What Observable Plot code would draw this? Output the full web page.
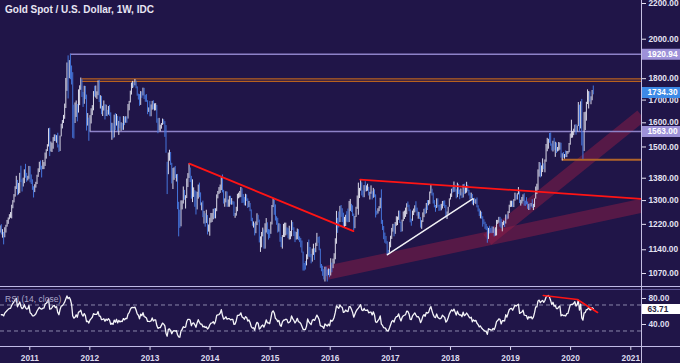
<!DOCTYPE html>
<html><head><meta charset="utf-8">
<script src="https://cdn.jsdelivr.net/npm/d3@7"></script>
<script src="https://cdn.jsdelivr.net/npm/@observablehq/plot@0.6"></script>
<style>
html,body{margin:0;padding:0;background:#201548;}
#wrap{position:relative;width:680px;height:363px;overflow:hidden;background:#201548;font-family:"Liberation Sans",Arial,sans-serif;}
#main,#rsi{position:absolute;left:0;}
#main{top:0;}
#rsi{top:287px;}
.hl{position:absolute;left:0;width:680px;height:1px;}
.vl{position:absolute;top:0;left:641px;width:1px;height:363px;background:#c4bfe2;}
#title{position:absolute;left:5px;top:4px;color:#e8e6f4;font-size:10px;font-weight:bold;line-height:12px;white-space:nowrap;}
#rsiTitle{position:absolute;left:5px;top:294px;color:#aaa6c8;font-size:8.5px;line-height:10px;white-space:nowrap;}
</style></head>
<body><div id="wrap">
<div id="main"></div><div id="rsi"></div>
<div class="hl" style="top:286px;background:#c0bae6"></div>
<div class="hl" style="top:289px;background:#5a5090"></div>
<div class="hl" style="top:346px;background:#c0bae6"></div>
<div class="vl"></div>
<div id="title">Gold Spot / U.S. Dollar, 1W, IDC</div>
<div id="rsiTitle">RSI (14, close)</div>
</div>
<script>
// ---------- DATA (weekly bars, week starting Monday 2010-04-05) ----------
const firstWeek = "2010-04-05";
const close2010 = [1162,1161,1175,1180, 1209,1228,1177,1212,1218, 1227,1256,1256,1208, 1210,1189,1189,1181, 1204,1215,1227,1237,1246, 1246,1275,1297,1318, 1346,1369,1326,1358, 1395,1367,1352,1364,1406, 1385,1376,1380,1421];
const high2010  = [1167,1169,1178,1186, 1212,1249,1232,1215,1227, 1250,1262,1265,1262, 1215,1219,1203,1194, 1209,1217,1233,1241,1252, 1259,1284,1300,1321, 1349,1387,1372,1361, 1398,1425,1374,1380,1411, 1432,1398,1387,1424];
const low2010   = [1126,1137,1133,1154, 1161,1197,1166,1170,1196, 1200,1218,1225,1200, 1192,1186,1176,1155, 1177,1192,1211,1220,1235, 1240,1238,1272,1292, 1312,1339,1317,1320, 1325,1364,1330,1348,1360, 1380,1365,1370,1376];
const close2011 = [1368,1360,1342,1341,1349, 1361,1388,1409,1429, 1421,1418,1428,1429, 1474,1486,1504,1556, 1491,1493,1511,1536,1542, 1528,1540,1500,1483, 1542,1592,1601,1628, 1664,1743,1852,1828,1876, 1856,1811,1657,1620, 1636,1682,1642,1745,1755, 1788,1725,1696,1746, 1713,1597,1606,1565];
const high2011  = [1423,1392,1374,1349,1356, 1365,1391,1415,1440, 1445,1425,1447,1439, 1476,1489,1509,1575, 1577,1520,1515,1538,1549, 1549,1546,1556,1508, 1544,1594,1610,1632, 1682,1801,1877,1913,1889, 1921,1862,1829,1677, 1687,1696,1680,1747,1766, 1803,1795,1735,1764, 1763,1723,1640,1620];
const low2011   = [1363,1357,1336,1309,1328, 1344,1357,1383,1401, 1410,1381,1412,1412, 1424,1452,1482,1500, 1462,1480,1478,1491,1522, 1521,1515,1496,1478, 1482,1541,1574,1597, 1615,1662,1740,1705,1800, 1795,1770,1535,1532, 1597,1623,1604,1642,1675, 1745,1712,1667,1681, 1702,1565,1586,1523];
const close2012 = [1617,1640,1665,1735,1725, 1725,1725,1775,1710, 1711,1656,1662,1669, 1632,1659,1642,1664,1644, 1578,1592,1573,1622, 1591,1628,1572,1604, 1580,1591,1584,1619,1604, 1620,1616,1671,1691, 1740,1771,1773,1772, 1780,1757,1724,1711,1676, 1730,1714,1751,1712, 1705,1696,1657,1657,1656];
const high2012  = [1631,1661,1675,1739,1764, 1765,1738,1789,1792, 1720,1717,1672,1696, 1680,1677,1654,1671,1676, 1643,1598,1596,1633, 1640,1636,1628,1606, 1625,1600,1597,1627,1625, 1626,1625,1680,1694, 1741,1779,1787,1781, 1796,1788,1761,1727,1725, 1739,1737,1755,1754, 1722,1725,1697,1665,1694];
const low2012   = [1562,1595,1631,1652,1714, 1709,1703,1720,1689, 1660,1635,1627,1651, 1612,1627,1626,1633,1628, 1563,1527,1533,1537, 1567,1586,1563,1547, 1575,1564,1568,1568,1588, 1598,1598,1616,1652, 1687,1723,1753,1757, 1766,1752,1718,1700,1672, 1676,1708,1719,1703, 1690,1690,1635,1645,1626];
const close2013 = [1661,1687,1658,1667, 1667,1609,1572,1577, 1577,1592,1608,1598, 1581,1476,1405,1463,1468, 1435,1364,1386,1392, 1383,1387,1296,1234, 1223,1277,1295,1322,1311, 1313,1370,1396,1396, 1387,1308,1333,1338,1310, 1272,1315,1352,1315, 1287,1288,1244,1250, 1231,1236,1203,1213,1237];
const high2013  = [1678,1694,1697,1683, 1684,1676,1617,1619, 1590,1597,1616,1613, 1605,1588,1440,1476,1487, 1478,1436,1416,1419, 1424,1393,1394,1294, 1267,1299,1299,1348,1336, 1317,1377,1397,1434, 1418,1387,1374,1345,1335, 1331,1329,1355,1362, 1327,1292,1298,1263, 1255,1267,1249,1218,1240];
const low2013   = [1626,1655,1656,1651, 1652,1598,1554,1565, 1562,1573,1589,1592, 1539,1475,1321,1393,1444, 1428,1359,1339,1372, 1379,1366,1269,1180, 1207,1212,1268,1288,1301, 1271,1307,1346,1379, 1364,1305,1293,1311,1277, 1251,1268,1305,1310, 1282,1265,1242,1221, 1211,1223,1186,1195,1182];
const close2014 = [1252,1254,1264,1240, 1262,1318,1323,1326, 1339,1379,1333,1294,1303, 1318,1294,1300,1300, 1289,1293,1292,1250, 1252,1274,1316,1316,1320, 1337,1310,1304,1293, 1311,1305,1280,1287, 1268,1231,1216,1218,1192, 1222,1238,1231,1171, 1177,1190,1196,1175, 1192,1222,1196,1195,1189];
const high2014  = [1256,1256,1270,1272, 1272,1320,1332,1346, 1355,1383,1392,1336,1306, 1331,1330,1302,1315, 1315,1307,1297,1295, 1256,1277,1322,1326,1332, 1346,1342,1321,1311, 1322,1320,1306,1297, 1290,1268,1240,1228,1222, 1228,1255,1250,1234, 1180,1194,1208,1202, 1222,1239,1225,1203,1202];
const low2014   = [1224,1226,1235,1238, 1238,1262,1306,1321, 1325,1335,1327,1288,1277, 1292,1277,1277,1277, 1285,1284,1285,1246, 1240,1247,1262,1306,1309, 1311,1290,1291,1282, 1281,1297,1273,1276, 1262,1229,1214,1208,1183, 1190,1216,1225,1161, 1132,1146,1180,1142, 1142,1192,1187,1170,1175];
const close2015 = [1223,1277,1294,1279, 1234,1227,1204,1213, 1167,1152,1183,1199,1201, 1207,1204,1176,1179, 1188,1225,1205,1190, 1168,1181,1201,1173,1168, 1157,1132,1097,1095, 1094,1113,1160,1134,1121, 1108,1138,1145,1137, 1156,1177,1163,1142, 1088,1081,1076,1057,1085, 1075,1065,1076,1061];
const high2015  = [1227,1283,1307,1302, 1285,1245,1240,1222, 1220,1178,1184,1220,1224, 1224,1209,1206,1214, 1197,1232,1226,1209, 1196,1194,1205,1203,1180, 1175,1167,1133,1099, 1105,1125,1162,1170,1147, 1126,1142,1157,1143, 1160,1191,1178,1180, 1142,1096,1091,1081,1088, 1088,1080,1083,1082];
const low2015   = [1188,1218,1276,1250, 1231,1217,1192,1195, 1163,1147,1142,1178,1178, 1183,1186,1174,1170, 1171,1180,1200,1181, 1162,1170,1171,1168,1162, 1146,1130,1077,1077, 1080,1092,1110,1118,1116, 1098,1103,1123,1108, 1131,1150,1160,1137, 1085,1075,1062,1052,1046, 1061,1046,1064,1058];
const close2016 = [1098,1089,1097,1117, 1158,1239,1229,1221,1271, 1258,1254,1217,1222, 1243,1235,1232,1290, 1290,1273,1252,1214,1243, 1275,1298,1315,1339, 1366,1327,1322,1350, 1335,1336,1341,1321,1327, 1328,1310,1337,1316, 1257,1252,1266,1276,1303, 1225,1208,1178,1177, 1160,1134,1133,1151];
const high2016  = [1113,1100,1112,1128, 1174,1263,1240,1261,1280, 1283,1272,1257,1243, 1250,1262,1271,1297, 1304,1287,1282,1254,1246, 1277,1316,1362,1343, 1375,1363,1334,1353, 1367,1352,1358,1347,1329, 1352,1331,1343,1338, 1320,1264,1272,1279,1308, 1338,1233,1213,1192, 1181,1165,1138,1163];
const low2016   = [1063,1072,1084,1097, 1110,1157,1191,1208,1226, 1243,1226,1208,1207, 1213,1227,1225,1226, 1263,1259,1246,1200,1206, 1243,1270,1250,1307, 1333,1316,1310,1310, 1330,1331,1333,1316,1302, 1322,1302,1308,1310, 1241,1250,1254,1262,1272, 1220,1200,1171,1160, 1157,1123,1125,1130];
const close2017 = [1173,1197,1205,1190,1220, 1234,1236,1257,1226, 1201,1229,1244,1249, 1254,1286,1284,1268, 1228,1227,1254,1267,1280, 1266,1254,1256,1242, 1212,1228,1255,1269,1258, 1289,1285,1291,1325, 1346,1320,1297,1280, 1275,1304,1280,1272,1269, 1275,1294,1287,1280, 1248,1256,1275,1303];
const high2017  = [1182,1207,1220,1220,1226, 1245,1244,1264,1264, 1227,1234,1261,1264, 1274,1289,1295,1284, 1268,1237,1264,1271,1282, 1296,1274,1260,1259, 1242,1232,1258,1270,1274, 1290,1300,1300,1330, 1357,1340,1326,1300, 1283,1306,1306,1283,1285, 1287,1297,1298,1299, 1283,1261,1277,1306];
const low2017   = [1146,1172,1195,1180,1188, 1214,1216,1233,1223, 1194,1196,1229,1236, 1243,1252,1276,1262, 1225,1214,1230,1249,1258, 1261,1247,1237,1236, 1208,1204,1226,1242,1252, 1255,1266,1282,1287, 1324,1316,1288,1275, 1260,1273,1277,1263,1264, 1265,1271,1280,1273, 1241,1236,1253,1277];
const close2018 = [1322,1338,1331,1349,1333, 1315,1347,1330,1323, 1324,1313,1347,1325, 1332,1345,1336,1323,1315, 1320,1291,1302,1294, 1298,1279,1269,1252, 1256,1241,1231,1223,1214, 1212,1184,1206,1201, 1196,1194,1200,1192, 1203,1222,1227,1234,1232, 1209,1222,1222,1221, 1248,1238,1257,1279,1287];
const high2018  = [1323,1340,1345,1366,1354, 1338,1362,1357,1337, 1341,1327,1356,1358, 1347,1365,1354,1336,1326, 1326,1321,1306,1308, 1303,1309,1282,1271, 1264,1260,1245,1235,1227, 1220,1212,1207,1214, 1207,1212,1211,1205, 1209,1233,1233,1243,1243, 1237,1226,1231,1230, 1251,1251,1262,1284,1298];
const low2018   = [1302,1311,1326,1329,1330, 1306,1310,1321,1303, 1316,1307,1309,1321, 1323,1326,1331,1316,1302, 1306,1285,1282,1289, 1287,1275,1261,1246, 1238,1237,1211,1219,1204, 1200,1160,1172,1189, 1191,1190,1191,1180, 1182,1183,1220,1224,1211, 1206,1196,1216,1210, 1221,1234,1237,1256,1276];
const close2019 = [1289,1282,1298,1317, 1314,1322,1328,1294, 1298,1302,1313,1293, 1291,1290,1275,1286,1281, 1286,1277,1284,1305, 1341,1341,1399,1409, 1399,1416,1426,1419,1440, 1496,1513,1527,1520, 1506,1488,1517,1497,1505, 1489,1490,1505,1514, 1459,1468,1462,1464, 1460,1476,1478,1511,1552];
const high2019  = [1298,1298,1303,1326, 1319,1324,1346,1331, 1301,1311,1320,1324, 1298,1310,1295,1287,1289, 1290,1303,1287,1306, 1348,1358,1411,1439, 1437,1426,1453,1434,1449, 1510,1535,1531,1555, 1557,1512,1523,1535,1519, 1516,1498,1518,1516, 1515,1473,1478,1470, 1484,1482,1482,1514,1553];
const low2019   = [1277,1276,1276,1298, 1302,1302,1320,1290, 1281,1288,1296,1281, 1280,1285,1270,1266,1267, 1278,1273,1266,1276, 1305,1321,1336,1384, 1381,1385,1401,1412,1400, 1440,1481,1491,1515, 1503,1484,1480,1485,1459, 1474,1480,1483,1487, 1456,1445,1456,1452, 1458,1458,1471,1477,1507];
const close2020 = [1557,1557,1571,1589, 1570,1584,1643,1585, 1673,1530,1498,1617,1620, 1683,1683,1729,1700, 1702,1743,1734.30];
const high2020  = [1611,1563,1573,1590, 1592,1586,1689,1677, 1692,1703,1560,1644,1646, 1690,1747,1739,1737, 1715,1744,1765];
const low2020   = [1535,1536,1546,1561, 1548,1561,1584,1563, 1574,1504,1451,1482,1567, 1607,1680,1660,1691, 1679,1697,1724];

// price-axis tick labels, boxed price labels, RSI values
const priceTicks = [2200, 2000, 1800, 1700, 1600, 1500, 1380, 1300, 1220, 1140, 1070];
const priceBoxes = [1920.94, 1734.30, 1563.00];
const rsiTicks = [40, 80];
const rsiGuides = [30, 70];
const rsiLast = 63.71;
const yearTicks = [2011, 2012, 2013, 2014, 2015, 2016, 2017, 2018, 2019, 2020, 2021];

// horizontal levels: [start date, price]
const levels = [["2011-09-05", 1920.94], ["2011-11-15", 1799], ["2011-11-15", 1787], ["2012-01-02", 1563], ["2019-11-12", 1450]];
// drawn trendlines: [date, price]
const downTrend = [["2013-08-28", 1435], ["2016-05-21", 1198]];
const flatTrend = [["2016-07-01", 1375], ["2021-03-07", 1306]];
const whiteTrend = [["2016-12-14", 1125], ["2018-05-16", 1306]];
const lowerChannel = [["2015-12-02", 1071], ["2021-03-07", 1282]];
const upperChannel = [["2018-08-13", 1171], ["2021-03-07", 1631]];
// RSI divergence line: [date, RSI]
const rsiTrend = [["2019-07-19", 84.6], ["2020-02-11", 78.5], ["2020-06-13", 58.5]];

// ---------- BUILD ----------
const closes = [].concat(close2010, close2011, close2012, close2013, close2014, close2015, close2016, close2017, close2018, close2019, close2020);
const highs = [].concat(high2010, high2011, high2012, high2013, high2014, high2015, high2016, high2017, high2018, high2019, high2020);
const lows = [].concat(low2010, low2011, low2012, low2013, low2014, low2015, low2016, low2017, low2018, low2019, low2020);
if (closes.length !== highs.length || closes.length !== lows.length) throw new Error("length mismatch " + closes.length + " " + highs.length + " " + lows.length);

const d0 = new Date(firstWeek);
const bars = closes.map((c, i) => ({
  date: new Date(Date.UTC(d0.getUTCFullYear(), d0.getUTCMonth(), d0.getUTCDate() + 7 * i)),
  close: c, high: highs[i], low: lows[i],
  up: i === 0 ? true : c >= closes[i - 1]
}));

// RSI(14), Wilder smoothing
const rsiData = [];
let ag = 0, al = 0;
for (let i = 1; i < closes.length; i++) {
  const ch = closes[i] - closes[i - 1];
  const g = Math.max(ch, 0), l = Math.max(-ch, 0);
  if (i <= 14) {
    ag += g / 14; al += l / 14;
    if (i === 14) rsiData.push({date: bars[i].date, rsi: 100 - 100 / (1 + ag / al)});
  } else {
    ag = (ag * 13 + g) / 14; al = (al * 13 + l) / 14;
    rsiData.push({date: bars[i].date, rsi: al === 0 ? 100 : 100 - 100 / (1 + ag / al)});
  }
}

const pts = arr => arr.map(([d, v]) => ({date: new Date(d), v}));
const xDomain = [new Date("2010-07-07"), new Date("2021-03-07")];
const tEnd = xDomain[1], tFar = new Date("2021-11-15");
const FONT = "Liberation Sans, Arial, sans-serif";
const lav = "#9d91d8";
const boxColors = [lav, "#3d8ae6", lav];
const levelColors = ["#8d82c8", "#b8611e", "#b8611e", "#8d82c8", "#b0642a"];
const levelWidths = [1.5, 1.2, 1.2, 1.5, 2];

const main = Plot.plot({
  width: 680, height: 287,
  marginLeft: 0, marginRight: 39, marginTop: 0, marginBottom: 0,
  style: {background: "transparent", color: "#e4e2f2", fontFamily: FONT, overflow: "visible"},
  x: {type: "utc", domain: xDomain, axis: null},
  y: {type: "log", domain: [1030.8, 2217.7], axis: null},
  color: {type: "identity"},
  marks: [
    Plot.line(pts(lowerChannel), {x: "date", y: "v", stroke: "#9a1f48", strokeOpacity: 0.45, strokeWidth: 14, strokeLinecap: "butt", clip: true}),
    Plot.line(pts(upperChannel), {x: "date", y: "v", stroke: "#9a1f48", strokeOpacity: 0.45, strokeWidth: 13, strokeLinecap: "butt", clip: true}),
    Plot.ruleY(levels.map(([d, p], i) => ({start: new Date(d), p, i})), {
      y: "p", x1: "start", x2: () => tEnd,
      stroke: d => levelColors[d.i], strokeWidth: d => levelWidths[d.i]
    }),
    Plot.ruleX(bars.filter(d => d.up), {x: "date", y1: "low", y2: "high", stroke: "#dcdcea", strokeWidth: 1}),
    Plot.ruleX(bars.filter(d => !d.up), {x: "date", y1: "low", y2: "high", stroke: "#4575db", strokeWidth: 1}),
    Plot.line(pts(downTrend), {x: "date", y: "v", stroke: "#ff1414", strokeWidth: 1.8, clip: true}),
    Plot.line(pts(flatTrend), {x: "date", y: "v", stroke: "#ff1414", strokeWidth: 1.8, clip: true}),
    Plot.line(pts(whiteTrend), {x: "date", y: "v", stroke: "#f2f2f6", strokeWidth: 1.5, clip: true}),
    Plot.axisY(priceTicks, {anchor: "right", tickSize: 4, tickPadding: 3, tickFormat: d => d.toFixed(2),
      fontSize: 8.3, fontWeight: "bold", label: null}),
    Plot.ruleY(priceBoxes.map((p, i) => ({p, i})), {y: "p", x1: () => tEnd, x2: () => tFar, stroke: d => boxColors[d.i], strokeWidth: 11}),
    Plot.text(priceBoxes, {x: () => tEnd, y: d => d, text: d => d.toFixed(2), dx: 6, textAnchor: "start",
      fill: "white", fontSize: 8.3, fontWeight: "bold"})
  ]
});
document.getElementById("main").append(main);

const rsiPlot = Plot.plot({
  width: 680, height: 76,
  marginLeft: 0, marginRight: 39, marginTop: 0, marginBottom: 16,
  style: {background: "transparent", color: "#dedcee", fontFamily: FONT, overflow: "visible"},
  x: {type: "utc", domain: xDomain, axis: null},
  y: {domain: [4.6, 96.9], axis: null},
  marks: [
    Plot.ruleY(rsiGuides, {stroke: "#8a86aa", strokeDasharray: "4,3", strokeWidth: 1}),
    Plot.line(rsiData, {x: "date", y: "rsi", stroke: "#f4f4f8", strokeWidth: 1.3, clip: true}),
    Plot.line(pts(rsiTrend), {x: "date", y: "v", stroke: "#ff1414", strokeWidth: 1.6}),
    Plot.axisY(rsiTicks, {anchor: "right", tickSize: 4, tickPadding: 3, tickFormat: d => d.toFixed(2),
      fontSize: 8.3, fontWeight: "bold", label: null}),
    Plot.ruleY([rsiLast], {x1: () => tEnd, x2: () => tFar, stroke: "white", strokeWidth: 10}),
    Plot.text([rsiLast], {x: () => tEnd, y: d => d, text: d => d.toFixed(2), dx: 6, textAnchor: "start",
      fill: "#2a2640", fontSize: 8.3, fontWeight: "bold"}),
    Plot.axisX(yearTicks.map(y => new Date(Date.UTC(y, 0, 1))), {anchor: "bottom", tickSize: 3, tickPadding: 5,
      tickFormat: d => String(d.getUTCFullYear()), fontSize: 8.3, fontWeight: "bold", label: null})
  ]
});
document.getElementById("rsi").append(rsiPlot);
</script>
</body></html>
